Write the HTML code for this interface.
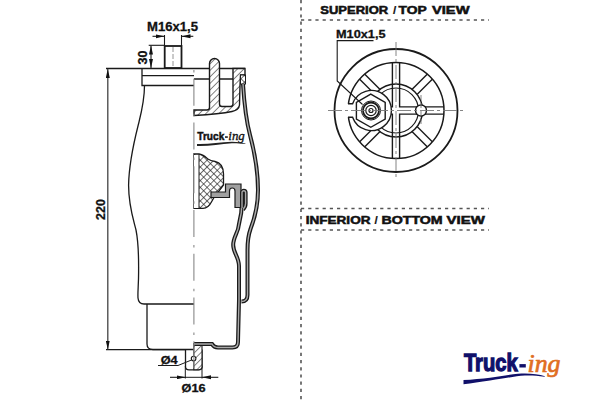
<!DOCTYPE html>
<html><head><meta charset="utf-8">
<style>
html,body{margin:0;padding:0;background:#fff;width:600px;height:400px;overflow:hidden}
svg{display:block}
text{font-family:"Liberation Sans",sans-serif;font-weight:bold}
</style></head><body>
<svg width="600" height="400" viewBox="0 0 600 400">
<defs>
<pattern id="hatch" patternUnits="userSpaceOnUse" width="4.6" height="4.6" patternTransform="rotate(45)">
<rect width="4.6" height="4.6" fill="#fff"/><line x1="0" y1="0" x2="0" y2="4.6" stroke="#222" stroke-width="1.1"/>
</pattern>
<pattern id="xhatch" patternUnits="userSpaceOnUse" width="4.8" height="4.8" patternTransform="rotate(45)">
<rect width="4.8" height="4.8" fill="#fff"/><line x1="0" y1="0" x2="0" y2="4.8" stroke="#222" stroke-width="1.3"/><line x1="0" y1="0" x2="4.8" y2="0" stroke="#222" stroke-width="1.3"/>
</pattern>
<marker id="arr" viewBox="0 0 9 4" refX="9" refY="2" markerWidth="9" markerHeight="4.4" markerUnits="userSpaceOnUse" orient="auto-start-reverse">
<path d="M0,0 L9,2 L0,4 z" fill="#111"/>
</marker>
</defs>

<!-- ============ LEFT DRAWING ============ -->
<g fill="none" stroke="#1a1a1a" stroke-width="1.3">
<!-- 220 dimension -->
<line x1="106" y1="68.5" x2="245" y2="68.5"/>
<line x1="106" y1="349.6" x2="186" y2="349.6" stroke-width="1.2"/>
<line x1="107.8" y1="69" x2="107.8" y2="349.5" stroke-width="1.3" stroke="#444" marker-start="url(#arr)" marker-end="url(#arr)"/>

<!-- plate left half -->
<path d="M194 85.5 L142 85.5 L142 68.5 M142 75.6 L194 75.6"/>
<!-- stud -->
<rect x="164.7" y="46" width="16.8" height="22" stroke-width="1.8"/>
<!-- M16 dim -->
<line x1="164.5" y1="35" x2="164.5" y2="46" stroke-width="1.1"/>
<line x1="181.5" y1="35" x2="181.5" y2="46" stroke-width="1.1"/>
<line x1="152.5" y1="36.3" x2="164.5" y2="36.3" stroke-width="1.1" marker-end="url(#arr)"/>
<line x1="193.3" y1="36.3" x2="181.5" y2="36.3" stroke-width="1.1" marker-end="url(#arr)"/>
<!-- 30 dim -->
<line x1="148.7" y1="45.3" x2="165" y2="45.3" stroke-width="1.1"/>
<line x1="151" y1="45.6" x2="151" y2="68" stroke-width="1.1" marker-start="url(#arr)" marker-end="url(#arr)"/>

<!-- body outline -->
<path d="M144.5 85.5 C144.5 100 142 110 139 122 C135 138 129 160 128.6 185 C128.5 205 133 218 136 230 C139 245 138.6 260 138.6 272 C138.6 285 137.6 292 138 298 Q138.5 304 144 304 L194 304"/>
<!-- lower piston -->
<path d="M147 304 L147 344 Q147 349.5 153 349.5 L194 349.5"/>
<!-- nub -->
<path d="M185.5 349.5 L185.5 366.5 Q185.5 369.8 189 369.8 L198.5 369.8 Q202 369.8 202 366.5 L202 349.5"/>
<line x1="185.3" y1="366" x2="185.3" y2="378.5" stroke-width="1"/>
<line x1="202" y1="366" x2="202" y2="378.5" stroke-width="1"/>
<line x1="170" y1="377.3" x2="185.5" y2="377.3" stroke-width="1.1" marker-end="url(#arr)"/><line x1="185" y1="377.3" x2="202" y2="377.3" stroke-width="1"/>
<line x1="218.3" y1="377.3" x2="202" y2="377.3" stroke-width="1.1" marker-end="url(#arr)"/>
<!-- O4 leader -->
<path d="M158 365.5 L178 365.5 L191.5 360" stroke-width="1"/>
</g>
<path d="M193.8 343.5 L202 343.5 L202 366.5 Q202 369.8 198.5 369.8 L193.8 369.8 Z" fill="url(#hatch)" stroke="#1a1a1a" stroke-width="1.1"/>
<circle cx="193.6" cy="358.6" r="2.3" fill="#fff" stroke="#1a1a1a" stroke-width="1.1"/>

<!-- right section top -->
<g fill="none" stroke="#1a1a1a" stroke-width="1.3">
<line x1="194" y1="79" x2="233" y2="79"/>
</g>
<path d="M209.5 63.5 A5 5 0 0 1 219.5 63.5 L219.5 104 Q219.5 106.5 222 106.5 L230.5 106.5 Q233 106.5 233 104 L233 68.5 L245 68.5 L245 75 L240.5 75 L240 86 L239.5 105 Q239 110 232 111.5 Q220 114 194 115.5 L194 110 L207 110 Q209.5 110 209.5 107.5 Z" fill="url(#hatch)" stroke="#1a1a1a" stroke-width="1.4"/>
<rect x="240.5" y="75" width="5" height="9" fill="url(#xhatch)" stroke="#1a1a1a" stroke-width="1"/>

<!-- membrane outer -->
<path d="M243 84 C244 100 246 120 250 135 C254 150 258 170 258 190 C258 205 254 220 250.5 229 C248 236 247.5 242 247.5 250 L247.5 295 Q247.5 301.5 241.5 301.5" fill="none" stroke="#1a1a1a" stroke-width="4"/>
<path d="M243 84 C244 100 246 120 250 135 C254 150 258 170 258 190 C258 205 254 220 250.5 229 C248 236 247.5 242 247.5 250 L247.5 295 Q247.5 301.5 241.5 301.5" fill="none" stroke="#aaa" stroke-width="1.4"/>
<!-- inner membrane / piston wall -->
<path d="M241.6 207 L241.2 213 L238.8 225 C238.5 232 233.2 237 233.2 245 C233.2 253 239 257 239 266 L239 300 L238 342 Q238 347.5 232.5 347.5 L218 347.5 Q214 347.5 212 344 L194 344" fill="none" stroke="#1a1a1a" stroke-width="4"/>
<path d="M241.6 207 L241.2 213 L238.8 225 C238.5 232 233.2 237 233.2 245 C233.2 253 239 257 239 266 L239 300 L238 342 Q238 347.5 232.5 347.5 L218 347.5 Q214 347.5 212 344 L194 344" fill="none" stroke="#aaa" stroke-width="1.4"/>
<!-- bump stop -->
<path d="M194 153.8 L199 154 C203 154.5 205.5 157 208 159 C210 160.5 212 161 215 161.5 C220 162.5 223.3 167 223.5 174 L223.5 185 L214 197.5 L212 201 C210 205 208 208.3 203 208.3 L194 208.3 Z" fill="url(#xhatch)" stroke="#1a1a1a" stroke-width="1.3"/>
<rect x="194" y="155" width="5" height="53" fill="#fff" stroke="none"/>
<line x1="199" y1="154.5" x2="199" y2="208" stroke="#333" stroke-width="1.1"/>
<!-- gray bracket -->
<path d="M211 192 L225.5 192 L225.5 184 L241 184 L241 207.5 L235 207.5 L235 191 Q235 188 232.2 188 Q229.5 188 229.5 191 L229.5 197.5 L211 197.5 Z" fill="#a0a0a0" stroke="#1a1a1a" stroke-width="1.2"/>

<!-- clamp loop -->
<path d="M242 208 L242 192.6 A1.8 1.8 0 0 1 245.6 192.6 L245.6 203.5 Q245.6 207 243 209.5" fill="none" stroke="#1a1a1a" stroke-width="4"/>
<path d="M242 208 L242 192.6 A1.8 1.8 0 0 1 245.6 192.6 L245.6 203.5 Q245.6 207 243 209.5" fill="none" stroke="#aaa" stroke-width="1.4"/>
<!-- center line -->
<line x1="173" y1="47" x2="173" y2="67" stroke="#888" stroke-width="0.9" stroke-dasharray="5 2"/>
<line x1="193.9" y1="63" x2="193.9" y2="376" stroke="#888" stroke-width="1.1" stroke-dasharray="27 8 2.5 6.25" stroke-dashoffset="28"/>

<!-- small logo -->
<text x="197.3" y="139.7" font-size="11.7" fill="#111" stroke="#111" stroke-width="0.5" textLength="27" lengthAdjust="spacingAndGlyphs">Truck</text>
<rect x="225" y="136.3" width="2.8" height="1.5" fill="#111"/>
<text x="228.3" y="139.7" font-size="13" fill="#111" stroke="#111" stroke-width="0.35" style="font-family:'Liberation Serif',serif;font-style:italic;font-weight:normal" textLength="16.5" lengthAdjust="spacingAndGlyphs">ing</text>
<path d="M197 144 C208 144.5 220 142 232 141.8 C238 141.8 242 142.8 245.5 143.5 L245.3 144 C240 143.5 236 143 232 143.2 C220 144 208 146.5 197 146 Z" fill="#222"/>

<!-- texts -->
<text x="147" y="31" font-size="12.5" fill="#111" stroke="#111" stroke-width="0.3" textLength="51" lengthAdjust="spacingAndGlyphs">M16x1,5</text>
<text transform="translate(146.8 64.4) rotate(-90)" font-size="12.4" fill="#111" stroke="#111" stroke-width="0.3" textLength="13.9" lengthAdjust="spacingAndGlyphs">30</text>
<text transform="translate(105 220) rotate(-90)" font-size="12.5" fill="#111" stroke="#111" stroke-width="0.3">220</text>
<text x="160.7" y="363.6" font-size="11.8" fill="#111" stroke="#111" stroke-width="0.3" textLength="17" lengthAdjust="spacingAndGlyphs">Ø4</text>
<text x="181.6" y="392.4" font-size="11.6" fill="#111" stroke="#111" stroke-width="0.3" textLength="24" lengthAdjust="spacingAndGlyphs">Ø16</text>

<!-- ============ RIGHT ============ -->
<g stroke="#555" stroke-width="1.6" stroke-dasharray="3.2 4">
<line x1="301" y1="0" x2="301" y2="400"/>
<line x1="301" y1="20" x2="489" y2="20"/>
<line x1="301" y1="208.5" x2="489" y2="208.5"/>
<line x1="301" y1="230" x2="489" y2="230"/>
</g>
<text x="320.3" y="13.7" font-size="11.7" fill="#111" stroke="#111" stroke-width="0.55" textLength="67.9" lengthAdjust="spacingAndGlyphs">SUPERIOR</text>
<text x="392.9" y="13.7" font-size="11.7" fill="#111" stroke="#111" stroke-width="0.2">/</text>
<text x="398.6" y="13.7" font-size="11.7" fill="#111" stroke="#111" stroke-width="0.55" textLength="28.2" lengthAdjust="spacingAndGlyphs">TOP</text>
<text x="432.0" y="13.7" font-size="11.7" fill="#111" stroke="#111" stroke-width="0.55" textLength="37.5" lengthAdjust="spacingAndGlyphs">VIEW</text>
<text x="305.7" y="223.9" font-size="11.7" fill="#111" stroke="#111" stroke-width="0.55" textLength="64.8" lengthAdjust="spacingAndGlyphs">INFERIOR</text>
<text x="374.4" y="223.9" font-size="11.7" fill="#111" stroke="#111" stroke-width="0.2">/</text>
<text x="381.5" y="223.9" font-size="11.7" fill="#111" stroke="#111" stroke-width="0.55" textLength="61.2" lengthAdjust="spacingAndGlyphs">BOTTOM</text>
<text x="446.6" y="223.9" font-size="11.7" fill="#111" stroke="#111" stroke-width="0.55" textLength="38.2" lengthAdjust="spacingAndGlyphs">VIEW</text>
<text x="336" y="38.2" font-size="11.2" fill="#111" stroke="#111" stroke-width="0.3" textLength="49.5" lengthAdjust="spacingAndGlyphs">M10x1,5</text>

<!-- top view -->
<clipPath id="r48"><circle cx="396" cy="110.5" r="48"/></clipPath>
<g clip-path="url(#r48)" stroke-linecap="butt">
<g stroke="#1a1a1a" stroke-width="8.6">
<line x1="396" y1="62" x2="396" y2="159"/>
<line x1="347" y1="110.5" x2="445" y2="110.5"/>
<line x1="414.7" y1="91.8" x2="430" y2="76.5"/>
<line x1="414.7" y1="129.2" x2="430" y2="144.5"/>
<line x1="377.3" y1="91.8" x2="362" y2="76.5"/>
<line x1="377.3" y1="129.2" x2="362" y2="144.5"/>
</g>
<g stroke="#fff" stroke-width="5.8">
<line x1="396" y1="60" x2="396" y2="161"/>
<line x1="345" y1="110.5" x2="447" y2="110.5"/>
<line x1="413" y1="93.5" x2="432" y2="74.5"/>
<line x1="413" y1="127.5" x2="432" y2="146.5"/>
<line x1="379" y1="93.5" x2="360" y2="74.5"/>
<line x1="379" y1="127.5" x2="360" y2="146.5"/>
</g>
</g>
<g fill="none" stroke="#1a1a1a" stroke-width="1.5">
<circle cx="396" cy="110.5" r="61.5" stroke-width="1.8"/>
<circle cx="396" cy="110.5" r="48"/>
<circle cx="396" cy="110.5" r="26.5"/>
<circle cx="396" cy="110.5" r="22.5" stroke-width="1.2"/>
</g>
<!-- leader -->

<!-- nut pocket -->
<rect x="346" y="103.8" width="26" height="13.4" fill="#fff"/>
<path d="M348 103.8 L352.6 103.8 A20 20 0 1 1 352.6 117.2 L348 117.2" fill="#fff" stroke="#1a1a1a" stroke-width="1.4"/>
<g fill="none" stroke="#1a1a1a">
<polygon points="370.8,94.1 385.2,102.4 385.2,119.0 370.8,127.3 356.4,119.0 356.4,102.4" stroke-width="1.4" fill="#fff"/>
<circle cx="371" cy="110.5" r="9.5" stroke-width="1"/>
<circle cx="371" cy="110.5" r="8" stroke-width="1.8"/>
<circle cx="371" cy="110.5" r="5.2" stroke-width="1.2"/>
<circle cx="371" cy="110.5" r="2" stroke-width="1.2"/>
</g>
<circle cx="421" cy="110.5" r="5.5" fill="#fff" stroke="#1a1a1a" stroke-width="1.4"/>
<path d="M373.5 40.6 L337.2 40.6 L337.2 81 L362.5 104.5" fill="none" stroke="#1a1a1a" stroke-width="1.1"/>
<!-- center lines -->
<g stroke="#777" stroke-width="0.9" stroke-dasharray="14 3 3 3">
<line x1="396" y1="42" x2="396" y2="180"/>
<line x1="328" y1="110.5" x2="466" y2="110.5"/>
<line x1="421" y1="95" x2="421" y2="127" stroke-dasharray="5 3"/>
</g>

<!-- big logo -->
<text x="463.9" y="370.8" font-size="24.2" fill="#10106a" stroke="#10106a" stroke-width="1.3" textLength="53.8" lengthAdjust="spacingAndGlyphs">Truck</text>
<rect x="519.4" y="364.1" width="6.4" height="3.4" fill="#10106a"/>
<text x="527.5" y="372" font-size="26" fill="#e06e22" stroke="#e06e22" stroke-width="0.7" style="font-family:'Liberation Serif',serif;font-style:italic;font-weight:normal" textLength="33" lengthAdjust="spacingAndGlyphs">ing</text>
<path d="M463.5 380 C472 379.6 482 378.6 490 377.7 C500 376.4 510 374.6 518 373.8 C528 373 538 374 545 376.3 L544.5 376.8 C537 375.6 530 375.3 525 375.6 C515 376.3 505 378.2 490 380.6 C480 382 472 383.5 463.5 384.2 Z" fill="#10106a"/>
</svg>
</body></html>
